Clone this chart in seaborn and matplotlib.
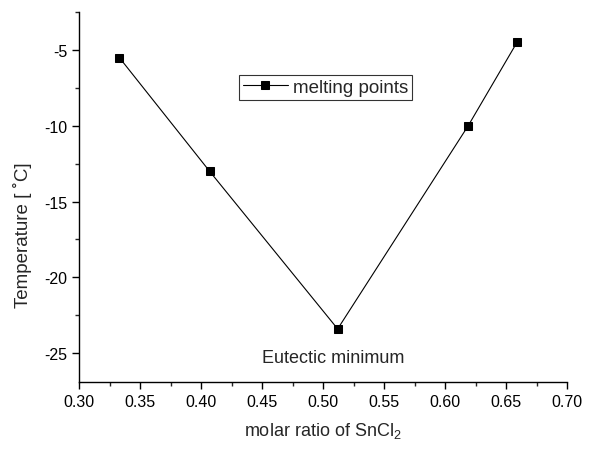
import matplotlib
matplotlib.use("Agg")
import matplotlib.pyplot as plt
from matplotlib.ticker import MultipleLocator, FormatStrFormatter
import pandas as pd
import seaborn as sns

# data
molar_ratio = [0.333, 0.407, 0.512, 0.619, 0.659]
melting_point = [-5.5, -13.0, -23.4, -10.0, -4.5]

sns.set_style("ticks")
plt.rcParams["font.family"] = ["Liberation Sans", "DejaVu Sans"]
plt.rcParams["mathtext.fontset"] = "custom"
plt.rcParams["mathtext.rm"] = "Liberation Sans"
plt.rcParams["mathtext.it"] = "Liberation Sans"
plt.rcParams["axes.unicode_minus"] = False

df = pd.DataFrame({"x": molar_ratio, "y": melting_point})

fig = plt.figure(figsize=(6.14, 4.52), dpi=100)
ax = fig.add_axes([0.1287, 0.1527, 0.7948, 0.8185])

sns.lineplot(
    data=df, x="x", y="y", ax=ax,
    color="black", linewidth=0.8,
    marker="s", markersize=6, markeredgecolor="black",
    label="melting points",
)

ax.text(0.508, -25.3, "Eutectic minimum", ha="center", va="center", fontsize=13)

ax.set_xlim(0.30, 0.70)
ax.set_ylim(-26.9, -2.5)
ax.xaxis.set_major_locator(MultipleLocator(0.05))
ax.xaxis.set_minor_locator(MultipleLocator(0.025))
ax.set_yticks([-25, -20, -15, -10, -5])
ax.yaxis.set_minor_locator(MultipleLocator(2.5))
ax.tick_params(which="major", direction="out", length=5, width=1, labelsize=11.5, colors="black")
ax.tick_params(which="minor", direction="out", length=3, width=1)
ax.xaxis.set_major_formatter(FormatStrFormatter("%.2f"))

for side in ["top", "right"]:
    ax.spines[side].set_visible(False)
for side in ["left", "bottom"]:
    ax.spines[side].set_color("black")
    ax.spines[side].set_linewidth(1)

ax.set_xlabel("molar ratio of SnCl$_2$", fontsize=13, labelpad=8)
ax.set_ylabel("Temperature [ ˚C]", fontsize=13.5)
ax.yaxis.set_label_coords(-0.096, 0.40)

leg = ax.legend(
    loc="upper left", bbox_to_anchor=(0.328, 0.83),
    fontsize=13.5, frameon=True, fancybox=False,
    handlelength=2.4, handletextpad=0.3, borderpad=0.2,
    borderaxespad=0,
)
leg.get_frame().set_edgecolor("black")
leg.get_frame().set_linewidth(0.8)

fig.savefig("out.png", dpi=100)
